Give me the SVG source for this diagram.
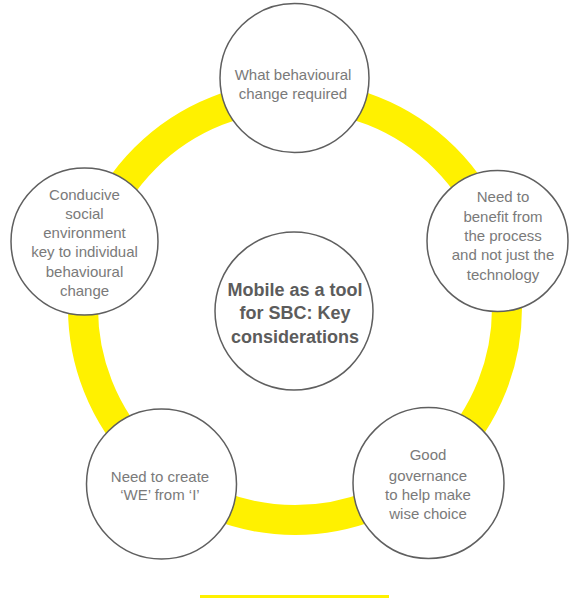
<svg xmlns="http://www.w3.org/2000/svg" width="569" height="598" viewBox="0 0 569 598">
  <style>
    .node circle { fill: #ffffff; stroke: #5f5f5f; stroke-width: 1.5; }
    .label { font-family: "Liberation Sans", Arial, sans-serif; font-size: 15px; fill: #7a7a7a; text-anchor: middle; }
    .title { font-family: "Liberation Sans", Arial, sans-serif; font-size: 18px; font-weight: bold; fill: #5c5c5c; text-anchor: middle; }
  </style>
  <rect width="569" height="598" fill="#ffffff"/>

  <!-- yellow cycle ring linking the considerations -->
  <g id="connectors">
    <circle cx="295" cy="308" r="212" fill="none" stroke="#FFF100" stroke-width="30"/>
  </g>

  <g id="center" class="node">
    <circle cx="294" cy="311" r="79"/>
    <text class="title" x="295" y="295.5">Mobile as a tool</text>
    <text class="title" x="295" y="319">for SBC: Key</text>
    <text class="title" x="295" y="342.5">considerations</text>
  </g>

  <g id="top" class="node">
    <circle cx="294.5" cy="78" r="74.5"/>
    <text class="label" x="293" y="79.5">What behavioural</text>
    <text class="label" x="293" y="99">change required</text>
  </g>

  <g id="left" class="node">
    <circle cx="84.5" cy="241.5" r="73.5"/>
    <text class="label" x="84.5" y="200">Conducive</text>
    <text class="label" x="84.5" y="219">social</text>
    <text class="label" x="84.5" y="238">environment</text>
    <text class="label" x="84.5" y="257">key to individual</text>
    <text class="label" x="84.5" y="277">behavioural</text>
    <text class="label" x="84.5" y="296">change</text>
  </g>

  <g id="right" class="node">
    <circle cx="497.5" cy="241" r="70.5"/>
    <text class="label" x="503" y="202">Need to</text>
    <text class="label" x="503" y="222">benefit from</text>
    <text class="label" x="503" y="241">the process</text>
    <text class="label" x="503" y="260">and not just the</text>
    <text class="label" x="503" y="280">technology</text>
  </g>

  <g id="bottom-left" class="node">
    <circle cx="161.5" cy="484" r="75"/>
    <text class="label" x="160" y="482">Need to create</text>
    <text class="label" x="160" y="500">‘WE’ from ‘I’</text>
  </g>

  <g id="bottom-right" class="node">
    <circle cx="428.5" cy="483" r="75.5"/>
    <text class="label" x="428" y="460">Good</text>
    <text class="label" x="428" y="481">governance</text>
    <text class="label" x="428" y="500">to help make</text>
    <text class="label" x="428" y="519">wise choice</text>
  </g>

  <rect x="200" y="595" width="189" height="3" fill="#FFF100"/>
</svg>
